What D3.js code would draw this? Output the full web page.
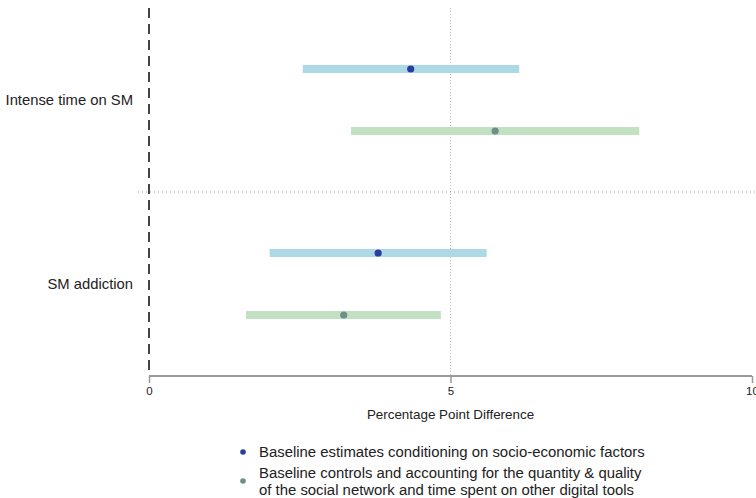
<!DOCTYPE html>
<html>
<head>
<script src="https://cdn.jsdelivr.net/npm/d3@7"></script>
<style>
body { margin: 0; background: #fff; }
text { font-family: "Liberation Sans", Arial, sans-serif; fill: #222; }
</style>
</head>
<body>
<svg id="chart" width="756" height="498"></svg>
<script>
// outcomes, top to bottom
var outcomes = ["Intense time on SM", "SM addiction"];
var models = ["base", "full"];
// point estimates and 95% CI per outcome, per model
var estimate = [[4.34, 5.74], [3.80, 3.23]];
var ciLow    = [[2.55, 3.35], [2.00, 1.61]];
var ciHigh   = [[6.14, 8.13], [5.60, 4.84]];
var xTicks = [0, 5, 10];
var legendLabels = [
  ["Baseline estimates conditioning on socio-economic factors"],
  ["Baseline controls and accounting for the quantity & quality", "of the social network and time spent on other digital tools"]
];

var barColor = ["#add8e6", "#c2e0c2"];
var dotColor = ["#2a3d9e", "#6e8f86"];

var svg = d3.select("#chart");
var x = d3.scaleLinear().domain([0, 10]).range([149, 752]);
var yGroup = d3.scaleBand().domain(outcomes).range([8, 376]);
var yModel = d3.scalePoint().domain(models).range([-31, 31]);

// grid: dotted vertical at 5, dotted divider between groups
svg.append("line")
  .attr("x1", x(5)).attr("x2", x(5)).attr("y1", 8).attr("y2", 376)
  .attr("stroke", "#bbb").attr("stroke-width", 1).attr("stroke-dasharray", "1,2");
svg.append("line")
  .attr("x1", 138).attr("x2", 756)
  .attr("y1", yGroup(outcomes[1])).attr("y2", yGroup(outcomes[1]))
  .attr("stroke", "#999").attr("stroke-width", 1).attr("stroke-dasharray", "1,3");

// zero line dashed
svg.append("line")
  .attr("x1", x(0)).attr("x2", x(0)).attr("y1", 8).attr("y2", 376)
  .attr("stroke", "#444").attr("stroke-width", 2).attr("stroke-dasharray", "10,6");

// rows
var rows = [];
outcomes.forEach(function(o, i) {
  models.forEach(function(m, j) {
    rows.push({ o: o, m: m, j: j, est: estimate[i][j], lo: ciLow[i][j], hi: ciHigh[i][j] });
  });
});
function yRow(d) { return yGroup(d.o) + yGroup.bandwidth() / 2 + yModel(d.m); }

svg.selectAll("rect.ci").data(rows).join("rect")
  .attr("class", "ci")
  .attr("x", function(d) { return x(d.lo); })
  .attr("width", function(d) { return x(d.hi) - x(d.lo); })
  .attr("y", function(d) { return yRow(d) - 4; })
  .attr("height", 8)
  .attr("fill", function(d) { return barColor[d.j]; });

svg.selectAll("circle.est").data(rows).join("circle")
  .attr("class", "est")
  .attr("cx", function(d) { return x(d.est); })
  .attr("cy", yRow)
  .attr("r", 3.6)
  .attr("fill", function(d) { return dotColor[d.j]; });

// y labels
svg.selectAll("text.ylab").data(outcomes).join("text")
  .attr("class", "ylab")
  .attr("x", 133)
  .attr("y", function(d) { return yGroup(d) + yGroup.bandwidth() / 2; })
  .attr("dy", "0.35em")
  .attr("text-anchor", "end")
  .style("font-size", "14.8px")
  .text(function(d) { return d; });

// x axis
var ax = svg.append("g").attr("transform", "translate(0,376)")
  .call(d3.axisBottom(x).tickValues(xTicks).tickSize(7).tickPadding(4).tickFormat(d3.format("d")));
ax.select(".domain").attr("stroke", "#999").attr("stroke-width", 2).attr("d", "M" + x(0) + ",0H" + x(10));
ax.selectAll(".tick line").attr("stroke", "#999").attr("stroke-width", 1.5).attr("y1", 0);
ax.selectAll(".tick text").style("font-size", "11.5px").style("font-family", "Liberation Sans, Arial, sans-serif").attr("fill", "#222");

svg.append("text")
  .attr("x", x(5)).attr("y", 419)
  .attr("text-anchor", "middle")
  .style("font-size", "13.4px")
  .text("Percentage Point Difference");

// legend
var lg = svg.append("g");
var legY = [452, 481];
legendLabels.forEach(function(lines, j) {
  lg.append("circle").attr("cx", 243).attr("cy", legY[j]).attr("r", 2.8).attr("fill", dotColor[j]);
  var t = lg.append("text")
    .attr("x", 259)
    .attr("y", legY[j] - (lines.length - 1) * 8.5)
    .style("font-size", "14.9px");
  lines.forEach(function(l, k) {
    t.append("tspan").attr("x", 259).attr("dy", k === 0 ? "0.35em" : "17px").text(l);
  });
});
</script>
</body>
</html>
